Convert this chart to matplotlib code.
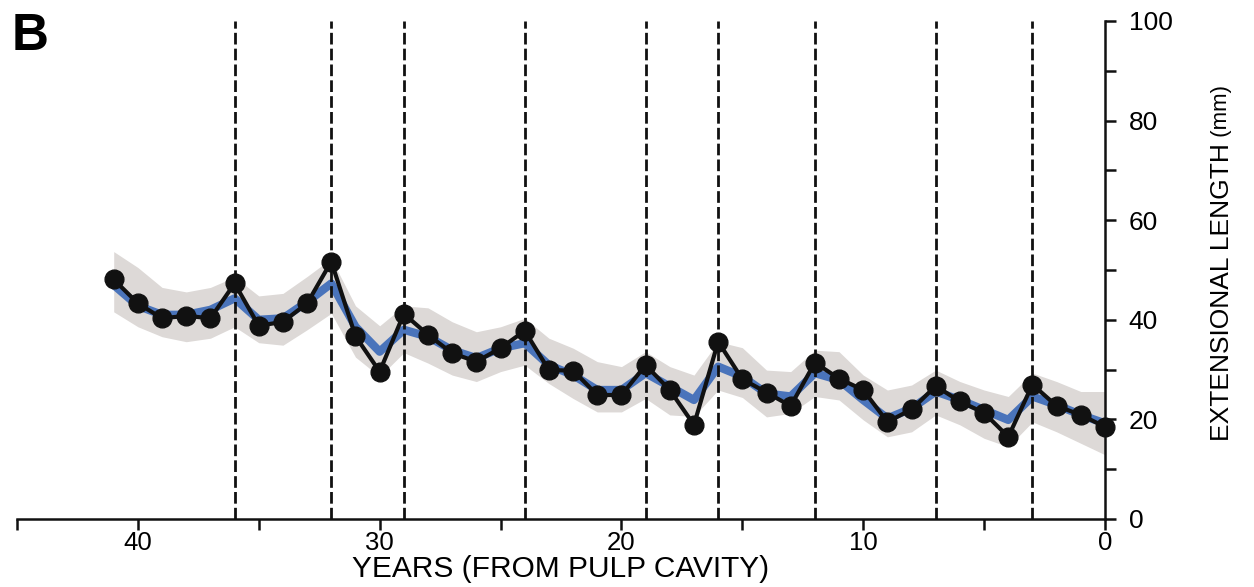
import numpy as np
import matplotlib
matplotlib.use('Agg')
import matplotlib.pyplot as plt
from matplotlib.ticker import MultipleLocator

# years counted back from the pulp cavity
years = list(range(41, -1, -1))

# black points: measured extensional length (mm)
length_mm = [48.1, 43.3, 40.3, 40.8, 40.3, 47.3, 38.8, 39.6, 43.3, 51.7,
             36.7, 29.6, 41.2, 37.0, 33.3, 31.6, 34.3, 37.8, 29.9, 29.8,
             24.9, 24.9, 30.9, 25.9, 18.9, 35.6, 28.1, 25.4, 22.7, 31.4,
             28.2, 25.9, 19.5, 22.0, 26.7, 23.6, 21.3, 16.5, 27.0, 22.7,
             20.9, 18.5]

# blue smoothed curve
smooth_mm = [47.0, 42.8, 41.0, 41.0, 42.0, 44.3, 40.0, 40.3, 43.6, 47.3,
             38.6, 33.6, 38.0, 36.6, 33.9, 32.3, 34.3, 35.3, 30.9, 28.9,
             25.9, 25.9, 29.3, 26.6, 23.9, 30.6, 28.6, 25.2, 24.6, 29.3,
             27.9, 23.9, 20.2, 22.2, 25.6, 23.9, 21.9, 19.9, 24.6, 22.9,
             20.9, 19.2]

# grey confidence band
band_hi = [53.7, 50.5, 46.5, 45.6, 46.5, 48.6, 44.8, 45.3, 48.7, 52.3,
           42.8, 38.8, 42.8, 42.4, 39.6, 37.6, 38.6, 40.3, 36.3, 34.3,
           31.6, 30.6, 33.6, 30.6, 28.9, 35.6, 34.4, 29.9, 29.6, 33.9,
           33.6, 28.9, 25.9, 26.9, 29.9, 27.6, 25.9, 24.6, 29.3, 27.6,
           25.6, 25.6]
band_lo = [41.6, 38.6, 36.6, 35.6, 36.3, 38.6, 35.4, 34.9, 38.0, 41.3,
           32.5, 28.6, 33.4, 31.3, 28.9, 27.6, 29.6, 30.9, 27.2, 24.2,
           21.5, 21.5, 24.2, 20.9, 20.6, 25.9, 24.4, 20.5, 21.2, 24.6,
           23.9, 19.9, 16.5, 17.5, 20.9, 18.9, 16.2, 14.5, 19.5, 17.5,
           15.2, 12.9]

# dashed reference years
marker_years = [36, 32, 29, 24, 19, 16, 12, 7, 3]

plt.rcParams['font.family'] = ['Liberation Sans', 'DejaVu Sans']

fig = plt.figure(figsize=(12.54, 5.87), dpi=100)
ax = fig.add_axes([17 / 1254, 68 / 587, 1088 / 1254, 498 / 587])

ax.fill_between(years, band_lo, band_hi, color='#ddd9d7', lw=0, zorder=1)
ax.plot(years, smooth_mm, color='#4a74bb', lw=6, solid_capstyle='butt', zorder=2)
for yr in marker_years:
    ax.plot([yr, yr], [0, 100], color='#111111', lw=2,
            linestyle=(0, (4.2, 1.5)), zorder=3, clip_on=False)
ax.plot(years, length_mm, color='#111111', lw=3, marker='o', ms=13.5,
        zorder=4, clip_on=False)

ax.set_xlim(45, 0)
ax.set_ylim(0, 100)

ax.spines['left'].set_visible(False)
ax.spines['top'].set_visible(False)
for s in ['bottom', 'right']:
    ax.spines[s].set_linewidth(1.8)
    ax.spines[s].set_color('#111111')

ax.yaxis.tick_right()
ax.xaxis.set_major_locator(MultipleLocator(10))
ax.xaxis.set_minor_locator(MultipleLocator(5))
ax.yaxis.set_major_locator(MultipleLocator(20))
ax.yaxis.set_minor_locator(MultipleLocator(10))
ax.tick_params(axis='both', which='both', direction='out', length=8,
               width=1.8, color='#111111')
ax.tick_params(axis='x', which='major', pad=0.5, labelsize=18.5)
ax.tick_params(axis='y', which='major', pad=9, labelsize=19)

ax.set_xlabel('YEARS (FROM PULP CAVITY)', fontsize=21.5, labelpad=0)

t1 = fig.text(1222 / 1254, 1 - 441 / 587, 'EXTENSIONAL LENGTH',
              fontsize=19, rotation=90, ha='center', va='bottom')
ax.annotate(' (mm)', xy=(0.5, 1.0), xycoords=t1, fontsize=16,
            rotation=90, ha='center', va='bottom')

fig.text(12 / 1254, 1 - 50 / 587, 'B', fontsize=37, fontweight='bold',
         ha='left', va='baseline')

fig.savefig('out.png', dpi=100)
